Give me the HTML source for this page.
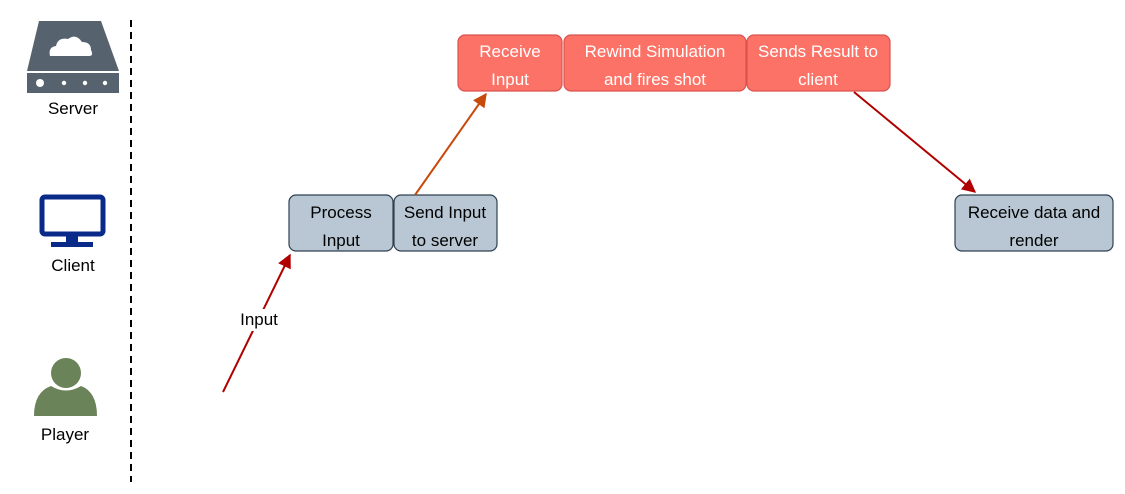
<!DOCTYPE html>
<html><head><meta charset="utf-8"><style>
html,body{margin:0;padding:0;background:#fff;}
svg{display:block;font-family:"Liberation Sans",Arial,sans-serif;}
</style></head><body>
<svg width="1125" height="494" viewBox="0 0 1125 494" xmlns="http://www.w3.org/2000/svg">
<defs>
<marker id="ar" viewBox="0 0 10 10" refX="9" refY="5" markerWidth="7" markerHeight="7" orient="auto"><path d="M0,0 L10,5 L0,10 z" fill="#b00000"/></marker>
<marker id="ao" viewBox="0 0 10 10" refX="9" refY="5" markerWidth="7" markerHeight="7" orient="auto"><path d="M0,0 L10,5 L0,10 z" fill="#c84a0a"/></marker>
</defs>
<rect width="1125" height="494" fill="#fff"/>
<line x1="131" y1="20" x2="131" y2="482" stroke="#000" stroke-width="2" stroke-dasharray="7,5"/>
<path d="M39,21 L101,21 L119,71 L27,71 Z" fill="#56636f"/>
<rect x="27" y="73" width="92" height="20" fill="#56636f"/>
<path d="M50,56 Q48,47 56,46 Q58,37 68,39 Q76,33 82,42 Q91,42 91,50 Q94,56 89,56 Z" fill="#fff"/>
<circle cx="40" cy="83" r="4" fill="#fff"/>
<circle cx="64" cy="83" r="2.2" fill="#fff"/>
<circle cx="85" cy="83" r="2.2" fill="#fff"/>
<circle cx="105" cy="83" r="2.2" fill="#fff"/>
<text x="73" y="114" font-size="17" text-anchor="middle" fill="#000">Server</text>
<rect x="42" y="197" width="61" height="37" rx="3" fill="none" stroke="#0a2a8a" stroke-width="5"/>
<rect x="66" y="236" width="12" height="7" fill="#0a2a8a"/>
<rect x="51" y="242" width="42" height="5" fill="#0a2a8a"/>
<text x="73" y="271" font-size="17" text-anchor="middle" fill="#000">Client</text>
<circle cx="66" cy="373" r="15" fill="#6b8359"/>
<path d="M34,416 Q34,392 51,386 Q66,395 81,386 Q97,392 97,416 Z" fill="#6b8359"/>
<text x="65" y="440" font-size="17" text-anchor="middle" fill="#000">Player</text>
<g stroke="#d9534f" stroke-width="1.2" fill="#fc7266">
<rect x="458" y="35" width="104" height="56" rx="7"/>
<rect x="564" y="35" width="182" height="56" rx="7"/>
<rect x="747" y="35" width="143" height="56" rx="7"/>
</g>
<g font-size="17" fill="#fff" text-anchor="middle">
<text x="510" y="57">Receive</text><text x="510" y="85">Input</text>
<text x="655" y="57">Rewind Simulation</text><text x="655" y="85">and fires shot</text>
<text x="818" y="57">Sends Result to</text><text x="818" y="85">client</text>
</g>
<g stroke="#2f4050" stroke-width="1.2" fill="#b8c7d3">
<rect x="289" y="195" width="104" height="56" rx="7"/>
<rect x="394" y="195" width="103" height="56" rx="7"/>
<rect x="955" y="195" width="158" height="56" rx="7"/>
</g>
<g font-size="17" fill="#000" text-anchor="middle">
<text x="341" y="218">Process</text><text x="341" y="246">Input</text>
<text x="445" y="218">Send Input</text><text x="445" y="246">to server</text>
<text x="1034" y="218">Receive data and</text><text x="1034" y="246">render</text>
</g>
<line x1="223" y1="392" x2="290" y2="255" stroke="#b00000" stroke-width="2" marker-end="url(#ar)"/>
<rect x="236" y="309" width="46" height="22" fill="#fff"/>
<text x="259" y="325" font-size="17" text-anchor="middle" fill="#000">Input</text>
<line x1="415" y1="195" x2="486" y2="94" stroke="#c84a0a" stroke-width="2" marker-end="url(#ao)"/>
<line x1="854" y1="92" x2="975" y2="192" stroke="#b00000" stroke-width="2" marker-end="url(#ar)"/>
</svg>
</body></html>
